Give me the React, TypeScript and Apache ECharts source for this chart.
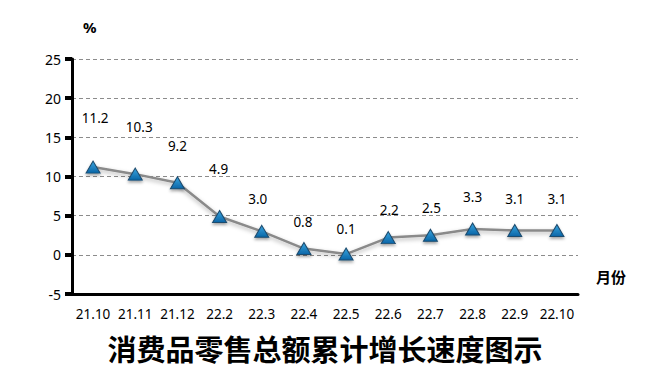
import React, { useEffect, useRef } from "react";
import * as echarts from "echarts";

const categories = ["21.10", "21.11", "21.12", "22.2", "22.3", "22.4", "22.5", "22.6", "22.7", "22.8", "22.9", "22.10"];
const values = [11.2, 10.3, 9.2, 4.9, 3.0, 0.8, 0.1, 2.2, 2.5, 3.3, 3.1, 3.1];
const labelTexts = ["11.2", "10.3", "9.2", "4.9", "3.0", "0.8", "0.1", "2.2", "2.5", "3.3", "3.1", "3.1"];
const labelOffsets = [[2, -49], [4, -47], [0, -37], [-1, -47], [-4, -32], [-1, -27], [0, -25], [1, -28], [1, -27], [0, -32], [0, -32], [0, -32]];
const yTicks = [-5, 0, 5, 10, 15, 20, 25];

export default function App() {
  const ref = useRef<HTMLDivElement>(null);
  useEffect(() => {
    const chart = echarts.init(ref.current!, undefined, { renderer: "svg" });
    const font = "'Noto Sans', sans-serif";
    chart.setOption({
      animation: false,
      backgroundColor: "#ffffff",
      grid: { left: 72, right: 72, top: 59, bottom: 89 },
      xAxis: {
        type: "category",
        data: categories,
        boundaryGap: true,
        axisLine: { onZero: false, lineStyle: { color: "#000", width: 3 } },
        axisTick: { show: false },
        axisLabel: { color: "#000", fontSize: 13.5, fontFamily: font, margin: 13, interval: 0 },
        splitLine: { show: false },
      },
      yAxis: {
        type: "value",
        min: yTicks[0],
        max: yTicks[yTicks.length - 1],
        interval: 5,
        axisLine: { show: true, lineStyle: { color: "#000", width: 3 } },
        axisTick: { show: true, length: 7, lineStyle: { color: "#000", width: 4 } },
        axisLabel: { color: "#000", fontSize: 14, fontFamily: font, margin: 11 },
        splitLine: { show: true, lineStyle: { color: "#8c8c8c", type: [4, 3], width: 1 } },
      },
      graphic: [
        { type: "text", left: 83, top: 19, style: { text: "%", fontSize: 15, fontWeight: "bold", fill: "#000", fontFamily: font } },
        { type: "text", left: 596, top: 269, style: { text: "月份", fontSize: 15, fontWeight: "bold", fill: "#000", fontFamily: "'Noto Sans CJK SC', sans-serif" } },
        { type: "text", left: "center", top: 333, style: { text: "消费品零售总额累计增长速度图示", fontSize: 29, fontWeight: "bold", fill: "#000", fontFamily: "'Noto Sans CJK SC', serif" } },
      ],
      series: [
        {
          type: "line",
          data: values.map((v, i) => ({
            value: v,
            label: { offset: labelOffsets[i], formatter: labelTexts[i] },
          })),
          symbol: "triangle",
          symbolSize: [14, 12],
          lineStyle: { color: "#8a8a8a", width: 2.5, shadowColor: "rgba(0,0,0,0.3)", shadowBlur: 4, shadowOffsetY: 2 },
          itemStyle: {
            color: new echarts.graphic.LinearGradient(0, 0, 0, 1, [
              { offset: 0, color: "#3aa6e0" },
              { offset: 1, color: "#0a65a6" },
            ]),
            borderColor: "#1c4b6e",
            borderWidth: 1,
            shadowColor: "rgba(0,0,0,0.35)",
            shadowBlur: 3,
            shadowOffsetY: 2,
          },
          label: {
            show: true,
            position: "inside",
            color: "#000",
            fontSize: 13.5,
            fontFamily: font,
          },
        },
      ],
    });
    return () => chart.dispose();
  }, []);
  return <div ref={ref} style={{ width: 650, height: 383, position: "absolute", left: 0, top: 0 }} />;
}
